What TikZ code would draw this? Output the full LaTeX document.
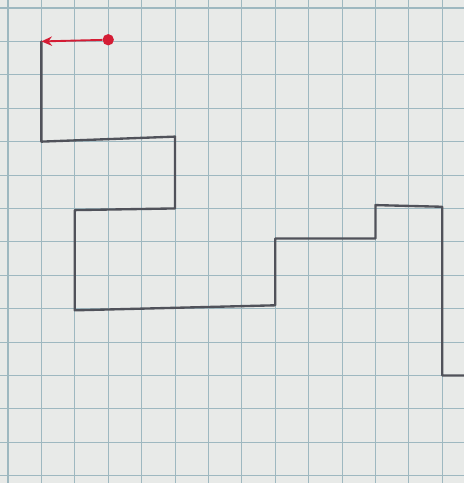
\documentclass[tikz,border=0pt]{standalone}
\usepackage{xcolor}
\usepackage{tikz}
\usetikzlibrary{arrows.meta}
\definecolor{paperwhite}{RGB}{232,234,232}
\definecolor{gridblue}{RGB}{158,184,192}
\definecolor{pencil}{RGB}{80,82,90}
\definecolor{penred}{RGB}{212,28,52}

\begin{document}
\begin{tikzpicture}[x=1cm, y=-1cm,
  gridline/.style={draw=gridblue, line width=0.9pt},
  trail/.style={draw=pencil, line width=2pt, line join=round, line cap=round},
  startdot/.style={circle, fill=penred, inner sep=0pt, minimum size=0.34cm},
  redarr/.style={-{Stealth[length=9pt, width=8pt]}, draw=penred, line width=1.6pt}
]
% Paper
\fill[paperwhite] (-0.24,-0.24) rectangle (13.65,14.22);
\useasboundingbox (-0.24,-0.24) rectangle (13.65,14.22);
% Grid
\foreach \c in {0,...,13} \draw[gridline] (\c,-0.24) -- (\c,14.22);
\foreach \r in {0,...,14} \draw[gridline] (-0.24,\r) -- (13.65,\r);
% Corners of the trail
\coordinate (p0) at (1,1);
\coordinate (p1) at (1,4);
\coordinate (p2) at (5,3.85);
\coordinate (p3) at (5,6);
\coordinate (p4) at (2,6.05);
\coordinate (p5) at (2,9.05);
\coordinate (p6) at (8,8.9);
\coordinate (p7) at (8,6.9);
\coordinate (p8) at (11,6.9);
\coordinate (p9) at (11,5.9);
\coordinate (p10) at (13,5.95);
\coordinate (p11) at (13,11);
\coordinate (p12) at (13.65,11);
% Trail
\draw[trail] (p0) -- (p1) -- (p2) -- (p3) -- (p4) -- (p5) -- (p6) -- (p7)
  -- (p8) -- (p9) -- (p10) -- (p11) -- (p12);
% Start and first step
\node[startdot] (start) at (3,0.95) {};
\draw[redarr] (start) -- (p0);
\end{tikzpicture}
\end{document}
